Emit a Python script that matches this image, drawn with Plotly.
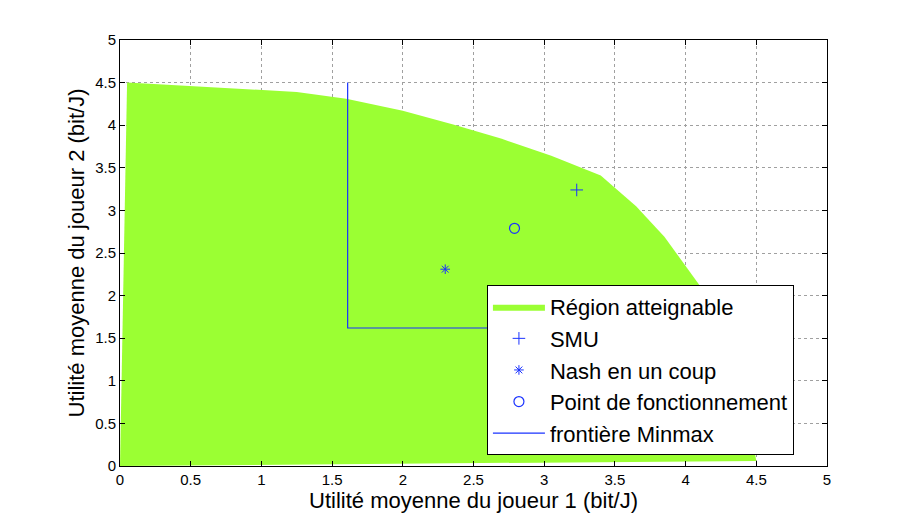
import plotly.graph_objects as go

# attainable region boundary (utility player 1, utility player 2)
region_x = [0.0, 0.05, 1.25, 1.6, 2.0, 2.35, 2.7, 3.05, 3.4, 3.65, 3.85, 4.1, 4.3, 4.42, 4.5, 0.0]
region_y = [0.0, 4.5, 4.39, 4.31, 4.17, 4.01, 3.84, 3.64, 3.41, 3.05, 2.69, 2.12, 1.5, 0.8, 0.06, 0.0]

smu_x, smu_y = [3.23], [3.24]
nash_x, nash_y = [2.30], [2.31]
op_x, op_y = [2.79], [2.79]

minmax_x = [1.61, 1.61, 4.5]
minmax_y = [4.5, 1.62, 1.62]

blue = "#1a33ff"
green = "#9BFF33"

fig = go.Figure()
fig.add_trace(go.Scatter(x=region_x, y=region_y, fill="toself", fillcolor=green,
                         mode="lines", line=dict(color=green, width=0),
                         name="Région atteignable"))
fig.add_trace(go.Scatter(x=smu_x, y=smu_y, mode="markers", name="SMU",
                         marker=dict(symbol="cross-thin", size=9, color=blue,
                                     line=dict(color=blue, width=1))))
fig.add_trace(go.Scatter(x=nash_x, y=nash_y, mode="markers", name="Nash en un coup",
                         marker=dict(symbol="asterisk-open", size=8, color=blue,
                                     line=dict(color=blue, width=1))))
fig.add_trace(go.Scatter(x=op_x, y=op_y, mode="markers", name="Point de fonctionnement",
                         marker=dict(symbol="circle-open", size=10, color=blue,
                                     line=dict(color=blue, width=1.2))))
fig.add_trace(go.Scatter(x=minmax_x, y=minmax_y, mode="lines", name="frontière Minmax",
                         line=dict(color=blue, width=1.2)))

axis_common = dict(
    showline=True, linecolor="black", linewidth=1, mirror="allticks",
    ticks="inside", ticklen=5, tickcolor="black",
    showgrid=True, gridcolor="#a0a0a0", griddash="dot", gridwidth=1,
    zeroline=False, tickfont=dict(size=15, color="black"),
    dtick=0.5, tick0=0, automargin=False,
)

fig.update_xaxes(range=[0, 5], title=dict(text="Utilité moyenne du joueur 1 (bit/J)",
                 font=dict(size=22, color="black"), standoff=2), **axis_common)
fig.update_yaxes(range=[0, 5], title=dict(text="Utilité moyenne du joueur 2 (bit/J)",
                 font=dict(size=22, color="black"), standoff=4), **axis_common)

fig.update_layout(
    width=913, height=524,
    margin=dict(l=112, r=94, t=32, b=66),
    paper_bgcolor="white", plot_bgcolor="white",
    font=dict(family="Liberation Sans, Arial, sans-serif", color="black"),
    legend=dict(x=0.519, y=0.425, xanchor="left", yanchor="top",
                bgcolor="white", bordercolor="black", borderwidth=1,
                font=dict(size=22), tracegroupgap=0, itemwidth=52),
    showlegend=True,
)

fig.write_html("out.html")
